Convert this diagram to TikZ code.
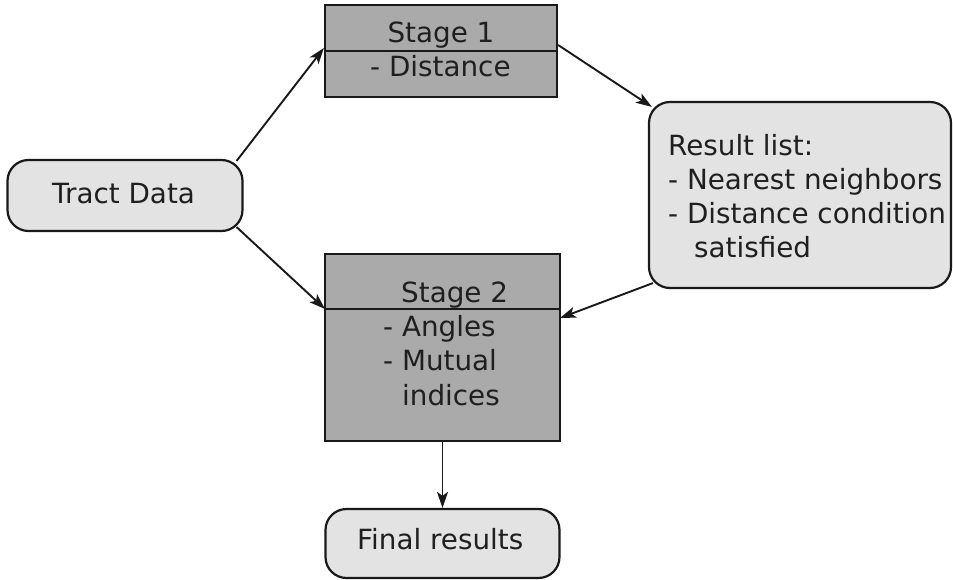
\documentclass[tikz,border=0pt]{standalone}
\usepackage{fontspec}
\setmainfont{DejaVu Sans}
\usetikzlibrary{arrows.meta}
\definecolor{stagegray}{RGB}{170,170,170}
\definecolor{softgray}{RGB}{227,227,227}
\tikzset{
  stagebox/.style={draw=black!90, line width=2.2pt, fill=stagegray, inner sep=0pt, rectangle},
  roundbox/.style={draw=black!90, line width=2.2pt, fill=softgray, inner sep=0pt, rectangle, rounded corners=21pt},
  txt/.style={inner sep=0pt, font=\fontsize{27.8}{34}\selectfont, text=black!88},
  conn/.style={line width=1.9pt, draw=black!90, -{Stealth[length=16pt,width=11pt,inset=4pt]}},
  divider/.style={line width=1.5pt, draw=black!90}
}
\begin{document}
\begin{tikzpicture}[x=1pt,y=-1pt]
\useasboundingbox (0,0) rectangle (953,580);
% boxes
\node[stagebox, minimum width=232pt, minimum height=92pt] (s1) at (441,51) {};
\node[stagebox, minimum width=235pt, minimum height=187pt] (s2) at (442.5,347.5) {};
\node[roundbox, minimum width=235pt, minimum height=71pt] (td) at (125,195.5) {};
\node[roundbox, minimum width=302pt, minimum height=186pt] (rl) at (800,195) {};
\node[roundbox, minimum width=234pt, minimum height=69pt] (fr) at (442.5,543.5) {};
% dividers
\coordinate (s1d) at (325,51);
\coordinate (s2d) at (325,309);
\coordinate (s2r) at (560,318);
\draw[divider] (s1d) -- (s1d -| s1.east);
\draw[divider] (s2d) -- (s2d -| s2.east);
% texts
\node[txt, anchor=base] (s1t) at (441,43) {Stage 1};
\node[txt, anchor=base west] (s1a) at (370,77) {- Distance};
\node[txt, anchor=base west] (s2t) at (401,302) {Stage 2};
\node[txt, anchor=base west] (s2a) at (383,336) {- Angles};
\node[txt, anchor=base west] (s2b) at (383,370) {- Mutual};
\node[txt, anchor=base west] (s2c) at (402,405) {indices};
\node[txt, anchor=base west] (tdt) at (52,204) {Tract Data};
\node[txt, anchor=base west] (r1) at (668,156) {Result list:};
\node[txt, anchor=base west] (r2) at (668,190) {- Nearest neighbors};
\node[txt, anchor=base west] (r3) at (668,224) {- Distance condition};
\node[txt, anchor=base west] (r4) at (694,258) {satisfied};
\node[txt, anchor=base west] (frt) at (357,549) {Final results};
% connectors
\draw[conn] ([xshift=-7pt,yshift=-2pt]td.north east) -- ([yshift=3pt]s1.west);
\draw[conn] ([xshift=-7pt,yshift=5pt]td.south east) -- (s2d);
\draw[conn] ([yshift=6pt]s1.east) -- ([xshift=4pt,yshift=-6pt]rl.north west);
\draw[conn] ([xshift=5pt,yshift=6pt]rl.south west) -- (s2r);
\draw[conn] (s2.south) -- (fr.north);
\end{tikzpicture}
\end{document}
